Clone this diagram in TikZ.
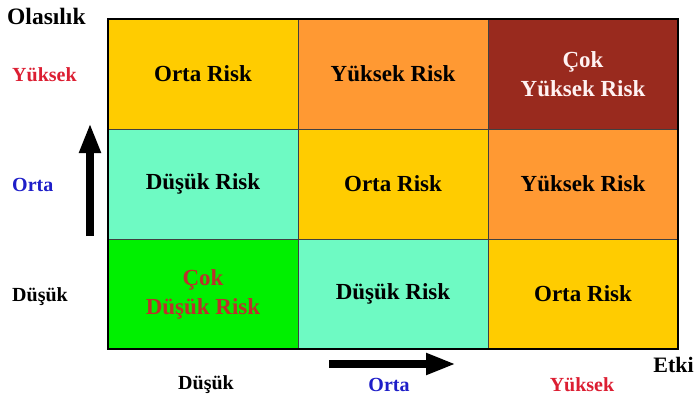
\documentclass[tikz,border=0pt]{standalone}
\usepackage{fontspec}
\setmainfont{Liberation Serif}
\usetikzlibrary{arrows.meta, positioning}
\definecolor{riskyellow}{RGB}{255, 204, 0}
\definecolor{riskorange}{RGB}{255, 153, 51}
\definecolor{riskdark}{RGB}{153, 42, 30}
\definecolor{riskaqua}{RGB}{110, 250, 195}
\definecolor{riskgreen}{RGB}{0, 240, 0}
\definecolor{labelred}{RGB}{220, 30, 50}
\definecolor{labelblue}{RGB}{30, 30, 200}
\definecolor{textbrown}{RGB}{185, 50, 45}

\tikzset{
  cell/.style={draw=black!75, line width=0.8pt, outer sep=0pt, inner sep=0pt,
    minimum width=190pt, minimum height=110pt, align=center,
    font=\fontsize{23}{29}\selectfont\bfseries},
  axislabel/.style={inner sep=0pt, font=\fontsize{20}{24}\selectfont\bfseries},
  axisarrow/.style={line width=8pt, -{Triangle[length=30pt, width=20pt]}}
}

\begin{document}
\begin{tikzpicture}[x=1pt, y=1pt, node distance=0pt]
  \useasboundingbox (0,0) rectangle (696,397);

  % risk matrix, top row = high probability
  \node[cell, fill=riskyellow] (c11) at (203,323) {Orta Risk};
  \node[cell, fill=riskorange, right=of c11] (c12) {Yüksek Risk};
  \node[cell, fill=riskdark, text=red!5, right=of c12] (c13) {Çok\\Yüksek Risk};
  \node[cell, fill=riskaqua, below=of c11] (c21) {Düşük Risk};
  \node[cell, fill=riskyellow, right=of c21] (c22) {Orta Risk};
  \node[cell, fill=riskorange, right=of c22] (c23) {Yüksek Risk};
  \node[cell, fill=riskgreen, text=textbrown, below=of c21] (c31) {Çok\\Düşük Risk};
  \node[cell, fill=riskaqua, right=of c31] (c32) {Düşük Risk};
  \node[cell, fill=riskyellow, right=of c32] (c33) {Orta Risk};
  \draw[line width=2pt] (c11.north west) rectangle (c33.south east);

  % probability axis
  \node[axislabel, anchor=west, font=\fontsize{23.5}{28}\selectfont\bfseries] (olasilik) at (7,381) {Olasılık};
  \node[axislabel, anchor=west, text=labelred] (yhigh) at (12,322) {Yüksek};
  \node[axislabel, anchor=west, text=labelblue] (ymid) at (12,212) {Orta};
  \node[axislabel, anchor=west] (ylow) at (12,100) {Düşük};
  \coordinate (vstart) at (90,161);
  \coordinate (vend) at (90,274);
  \draw[axisarrow] (vstart) -- (vend);

  % impact axis
  \node[axislabel] (xlow) at (206,12) {Düşük};
  \node[axislabel, text=labelblue] (xmid) at (389,12) {Orta};
  \node[axislabel, text=labelred] (xhigh) at (582,12) {Yüksek};
  \node[axislabel, anchor=east, font=\fontsize{22}{26}\selectfont\bfseries] (etki) at (694,32) {Etki};
  \coordinate (hstart) at (329,33);
  \coordinate (hend) at (456,33);
  \draw[axisarrow] (hstart) -- (hend);
\end{tikzpicture}
\end{document}
